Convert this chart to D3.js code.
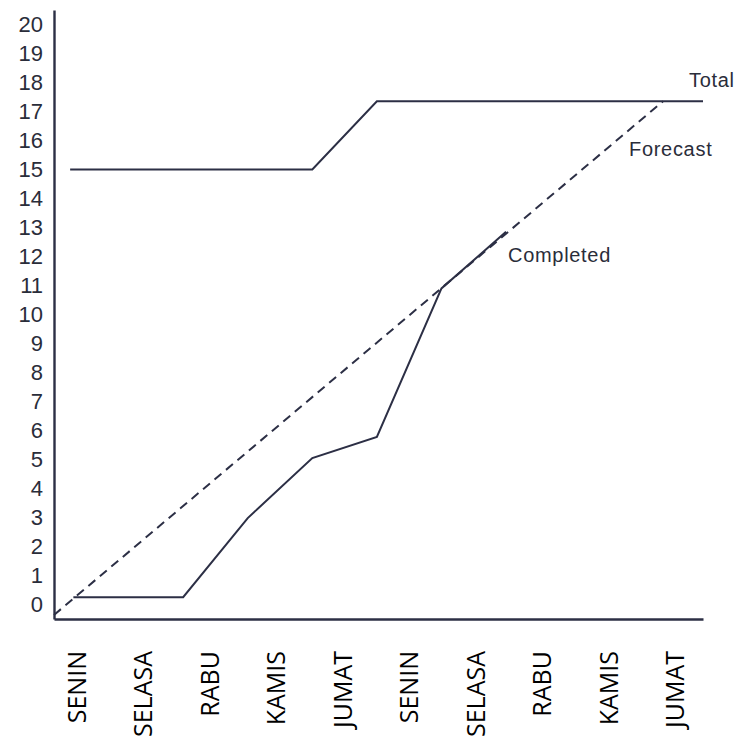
<!DOCTYPE html>
<html>
<head>
<meta charset="utf-8">
<script src="https://cdn.jsdelivr.net/npm/d3@7"></script>
<style>
  body { margin: 0; background: #fff; }
  svg { display: block; }
</style>
</head>
<body>
<svg width="736" height="740"></svg>
<script>
    // categories under the x axis
    const dayLabels = ['SENIN', 'SELASA', 'RABU', 'KAMIS', 'JUMAT', 'SENIN', 'SELASA', 'RABU', 'KAMIS', 'JUMAT']
    const yTicks = [0, 1, 2, 3, 4, 5, 6, 7, 8, 9, 10, 11, 12, 13, 14, 15, 16, 17, 18, 19, 20]

    // series (x = working day index, y = points)
    const totalDays = [0.25, 4, 5, 10.05]
    const totalValues = [15, 15, 17.35, 17.35]
    const forecastDays = [0, 9.43]
    const forecastValues = [-0.36, 17.35]
    const completedDays = [0.3, 2, 3, 4, 5, 6, 7]
    const completedValues = [0.25, 0.25, 2.98, 5.05, 5.78, 10.9, 12.85]

    const ink = '#2c2f45'
    const svg = d3.select('svg')

    const xs = d3.scaleLinear().domain([0, 10.05]).range([54, 703])
    const ys = d3.scaleLinear().domain([-0.5, 20.5]).range([619, 10])
    const xb = d3.scalePoint().domain(d3.range(dayLabels.length)).range([77, 675])

    // y axis
    const yaxis = svg.append('g').attr('transform', 'translate(' + xs(0) + ',0)')
      .call(d3.axisLeft(ys).tickValues(yTicks).tickSize(0).tickPadding(11).tickFormat(d3.format('d')))
    yaxis.select('.domain').attr('stroke', ink).attr('stroke-width', 2.4)
    yaxis.selectAll('text')
      .attr('font-family', '"Liberation Sans", Arial, sans-serif')
      .attr('font-size', 22)
      .attr('fill', '#2a2d3a')

    // x axis line
    const xaxis = svg.append('g').attr('transform', 'translate(0,' + ys(-0.5) + ')')
      .call(d3.axisBottom(xs).tickValues([]).tickSizeOuter(0))
    xaxis.select('.domain').attr('stroke', ink).attr('stroke-width', 2.4)

    // rotated day labels
    svg.append('g').selectAll('text').data(dayLabels).enter().append('text')
      .attr('transform', function(d, i) { return 'translate(' + xb(i) + ',651) rotate(-90)' })
      .attr('text-anchor', 'end')
      .attr('dy', '0.36em')
      .attr('font-family', '"Open Sans", "Noto Sans", sans-serif')
      .attr('font-size', 25)
      .attr('fill', '#000')
      .text(function(d) { return d })

    const line = d3.line()
      .x(function(d) { return xs(d[0]) })
      .y(function(d) { return ys(d[1]) })

    svg.append('path')
      .datum(d3.zip(totalDays, totalValues))
      .attr('d', line)
      .attr('fill', 'none').attr('stroke', ink).attr('stroke-width', 2)

    svg.append('path')
      .datum(d3.zip(forecastDays, forecastValues))
      .attr('d', line)
      .attr('fill', 'none').attr('stroke', ink).attr('stroke-width', 2)
      .attr('stroke-dasharray', '9,6')

    svg.append('path')
      .datum(d3.zip(completedDays, completedValues))
      .attr('d', line)
      .attr('fill', 'none').attr('stroke', ink).attr('stroke-width', 2)

    // series names
    const notes = [
      {name: 'Total', x: 689, y: 87},
      {name: 'Forecast', x: 629, y: 156},
      {name: 'Completed', x: 508, y: 262}
    ]
    svg.append('g').selectAll('text').data(notes).enter().append('text')
      .attr('x', function(d) { return d.x })
      .attr('y', function(d) { return d.y })
      .attr('font-family', '"Liberation Sans", Arial, sans-serif')
      .attr('font-size', 20)
      .attr('letter-spacing', 0.7)
      .attr('fill', '#2a2d3a')
      .text(function(d) { return d.name })
</script>
</body>
</html>
